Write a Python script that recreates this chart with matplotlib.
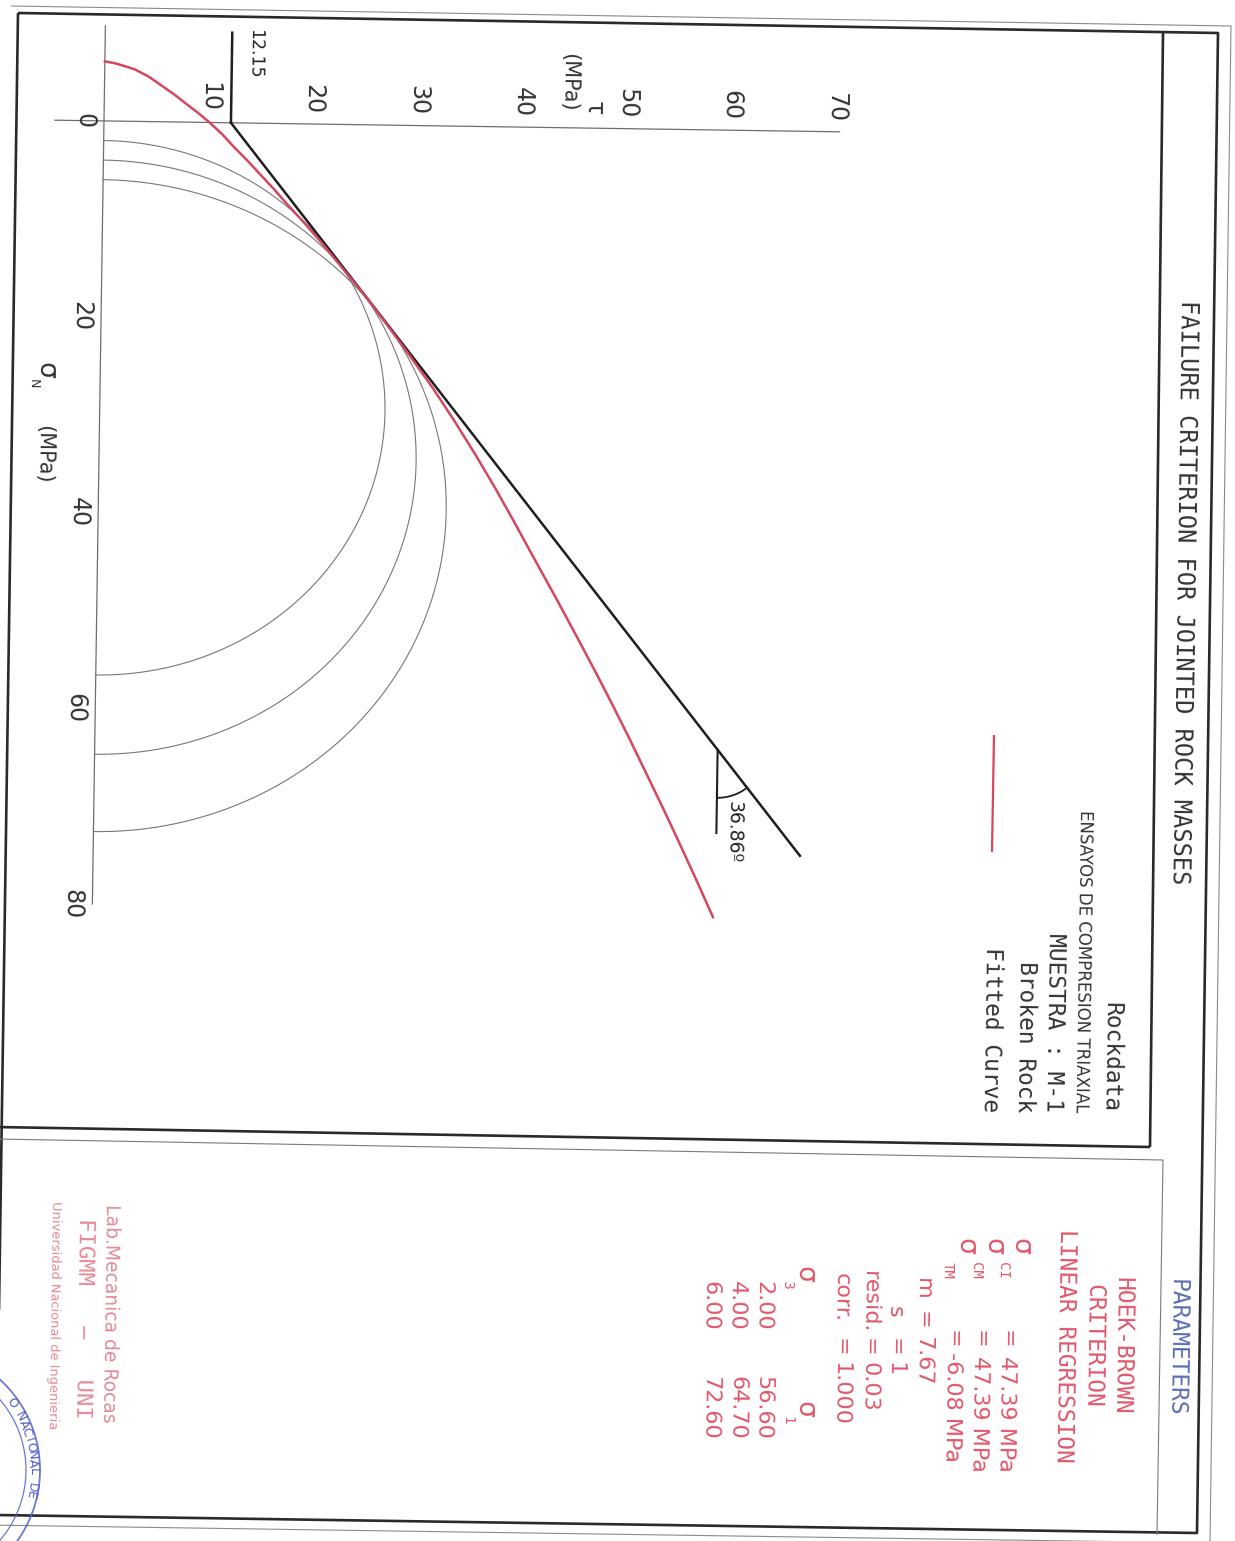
import numpy as np
import matplotlib
matplotlib.use("Agg")
import matplotlib.pyplot as plt
from matplotlib.transforms import Affine2D

# ---------------- data ----------------
sigma3 = [2.00, 4.00, 6.00]            # MPa
sigma1 = [56.60, 64.70, 72.60]         # MPa
cohesion = 12.15                       # MPa
phi_deg = 36.86                        # friction angle
mc_sigma_end = 74.0                    # end of Mohr-Coulomb line (sigma_n)
angle_vertex_sigma = 63.3              # where the angle is marked
hb_sigma_n = [-6.08, -5.9, -5.6, -5.3, -4.6, -3.6, -2.8, -1.9, -1.0, 0.0, 1.2,
              2.5, 3.8, 5.2, 6.7, 8.3, 10.1, 12.0, 13.7, 15.4, 17.5, 20.5,
              23.6, 26.8, 30.1, 33.5, 36.9, 40.3, 43.7, 48.0, 52.2, 55.6,
              59.0, 62.5, 65.9, 69.2, 72.6, 76.5, 80.4]
hb_tau = [0.0, 1.0, 2.0, 2.9, 4.2, 5.6, 6.7, 7.8, 8.95, 10.1, 11.35,
          12.5, 13.75, 15.0, 16.35, 17.7, 19.3, 20.9, 22.25, 23.6, 25.25, 27.45,
          29.65, 31.85, 33.95, 36.0, 37.95, 39.8, 41.6, 43.9, 46.1, 47.85,
          49.55, 51.25, 52.85, 54.4, 55.95, 57.7, 59.4]
tau_ticks = [10, 20, 30, 40, 50, 60, 70]
sn_ticks = [0, 20, 40, 60, 80]
sn_axis_range = [-9.7, 80.0]
tau_axis_range = [-4.7, 70.4]
cohesion_tick_top = -9.2

title = "FAILURE CRITERION FOR JOINTED ROCK MASSES"
legend_lines = ["Rockdata", "ENSAYOS DE COMPRESION TRIAXIAL", "MUESTRA : M-1",
                "Broken Rock", "Fitted Curve"]
param_header = ["HOEK-BROWN", "CRITERION", "LINEAR REGRESSION"]
sig_ci, sig_cm, sig_tm = "47.39", "47.39", "-6.08"
m_val, s_val, resid, corr = "7.67", "1", "0.03", "1.000"
s3_labels = ["2.00", "4.00", "6.00"]
s1_labels = ["56.60", "64.70", "72.60"]
lab_lines = ["Lab.Mecanica de Rocas", "FIGMM   \u2013   UNI",
             "Universidad Nacional de Ingenieria"]

# ---------------- figure ----------------
W, H = 1235, 1541
fig = plt.figure(figsize=(W / 100, H / 100), dpi=100)
fig.patch.set_facecolor("white")

page = fig.add_axes([0, 0, 1, 1], label="page")
page.set_xlim(0, W)
page.set_ylim(H, 0)
page.axis("off")

ax = fig.add_axes([0, 0, 1, 1], label="data")
X0, Y0, KX, KY = 94.4, 128.6, 10.45, 9.79   # unrotated pixel mapping
ax.set_xlim(-X0 / KX, (W - X0) / KX)
ax.set_ylim((H - Y0) / KY, -Y0 / KY)
ax.axis("off")

SKEW = -0.85
rot = Affine2D().rotate_deg_around(W / 2, H / 2, SKEW)
T = ax.transData + rot
ROT = -90 + SKEW

RED = "#d4475f"
TRED = "#e0566a"
GREY = "#6e6e6e"

def dtxt(tau, sig, s, size, color="#333333", ha="center", family="DejaVu Sans", **kw):
    ax.text(tau, sig, s, transform=T, rotation=ROT, rotation_mode="anchor",
            ha=ha, va="center", fontsize=size, color=color, family=family, **kw)

def ptxt(x, y, s, size, color="#333333", ha="left", family="DejaVu Sans", **kw):
    page.text(x, y, s, rotation=ROT, rotation_mode="anchor", ha=ha, va="center",
              fontsize=size, color=color, family=family, **kw)

def pline(xs, ys, lw, color="#333333"):
    page.plot(xs, ys, color=color, lw=lw, solid_capstyle="butt")

# ---------------- frame ----------------
pline([18, 1218, 1197, -4, 18], [13, 33, 1533, 1515, 13], 1.9, "#2a2a2a")
pline([11, 1231, 1210, -14], [6, 26, 1543, 1525], 0.8, "#8a8a8a")
pline([1163, 1150], [33, 1147], 1.9, "#2a2a2a")
pline([-4, 1150], [1127, 1147], 1.9, "#2a2a2a")
pline([-4, 1163], [1139, 1160], 0.8, "#7a7a7a")
pline([1163, 1157], [1160, 1535], 0.8, "#7a7a7a")

# ---------------- axes lines ----------------
ax.plot([0, 0], sn_axis_range, color=GREY, lw=0.9, transform=T)
ax.plot(tau_axis_range, [0, 0], color=GREY, lw=0.9, transform=T)

# Mohr circles
t = np.linspace(0, np.pi, 300)
for s3, s1 in zip(sigma3, sigma1):
    c = (s1 + s3) / 2
    r = (s1 - s3) / 2
    ax.plot(r * np.sin(t), c - r * np.cos(t), color="#777777", lw=0.8, transform=T)

# Mohr-Coulomb line
tanphi = np.tan(np.radians(phi_deg))
mc_s = np.array([0.0, mc_sigma_end])
ax.plot(cohesion + tanphi * mc_s, mc_s, color="#1f1f1f", lw=1.8, transform=T)
ax.plot([cohesion, cohesion], [0, cohesion_tick_top], color="#1f1f1f", lw=1.8, transform=T)

# angle marker
sv = angle_vertex_sigma
tv = cohesion + tanphi * sv
ax.plot([tv, tv], [sv, sv + 8.5], color="#1f1f1f", lw=1.5, transform=T)
ang_pix = np.arctan2(tanphi * KX, KY)
a = np.linspace(0, ang_pix, 40)
rp = 48.0
ax.plot(tv + rp * np.sin(a) / KX, sv + rp * np.cos(a) / KY, color="#1f1f1f", lw=1.3, transform=T)
dtxt(tv + 1.6, sv + 8.4, f"{phi_deg:.2f}\u00ba", 13.5, "#222222")

# Hoek-Brown fitted curve
ax.plot(hb_tau, hb_sigma_n, color=RED, lw=1.8, transform=T, solid_joinstyle="round")

# tick labels
for v in tau_ticks:
    dtxt(v, -2.55, str(v), 17, "#333333")
for v in sn_ticks:
    dtxt(-1.9, v, str(v), 17, "#333333")
dtxt(cohesion + 2.2, -7.1, f"{cohesion:.2f}", 12.5, "#222222")

# axis titles
dtxt(46.8, -2.0, "\u03c4", 17)
dtxt(44.4, -4.6, "(MPa)", 15)
dtxt(-5.3, 25.6, "\u03c3", 19)
dtxt(-6.4, 26.9, "N", 9)
dtxt(-5.3, 34.2, "(MPa)", 15)

# ---------------- title + legend ----------------
ptxt(1184, 592, title, 17, "#333333", ha="center", family="DejaVu Sans Mono")
leg_x = [1110, 1081, 1053, 1024, 990]
leg_fam = ["DejaVu Sans Mono", "DejaVu Sans", "DejaVu Sans Mono",
           "DejaVu Sans Mono", "DejaVu Sans Mono"]
leg_size = [16.5, 12.0, 16.5, 16.5, 16.5]
for s, x, fam, sz in zip(legend_lines, leg_x, leg_fam, leg_size):
    ptxt(x, 1112, s, sz, "#333333", ha="right", family=fam)
pline([994, 992], [735, 852], 1.6, RED)

# ---------------- parameters panel ----------------
ptxt(1176, 1348, "PARAMETERS", 16.5, "#5b6db3", ha="center", family="DejaVu Sans Mono")
for s, x in zip(param_header, [1122, 1093, 1065]):
    ptxt(x, 1346, s, 16.5, TRED, ha="center", family="DejaVu Sans Mono")

rows = [(1020, 1007, "CI", sig_ci), (993, 980, "CM", sig_cm), (965, 953, "TM", sig_tm)]
for xs, xr, sub, val in rows:
    ptxt(xs, 1238, "\u03c3", 19, TRED)
    ptxt(xs - 17, 1262, sub, 10, TRED, family="DejaVu Sans Mono")
    ptxt(xr, 1330, "=", 16, TRED)
    ptxt(xr, 1352 if val.startswith("-") else 1356, f"{val} MPa", 16, TRED)

ptxt(923, 1278, "m", 16, TRED)
ptxt(923, 1311, "=", 16, TRED)
ptxt(923, 1336, m_val, 16, TRED)
ptxt(895, 1306, "s", 16, TRED)
ptxt(895, 1338, "=", 16, TRED)
ptxt(895, 1362, s_val, 16, TRED)
ptxt(869, 1332, "resid.", 16, TRED, ha="right")
ptxt(869, 1338, "=", 16, TRED)
ptxt(869, 1362, resid, 16, TRED)
ptxt(841, 1322, "corr.", 16, TRED, ha="right")
ptxt(841, 1338, "=", 16, TRED)
ptxt(841, 1362, corr, 16, TRED)

ptxt(804, 1266, "\u03c3", 19, TRED)
ptxt(787, 1281, "3", 10, TRED)
ptxt(804, 1401, "\u03c3", 19, TRED)
ptxt(787, 1416, "1", 10, TRED)
for x, a3, a1 in zip([763, 737, 710], s3_labels, s1_labels):
    ptxt(x, 1281, a3, 16, TRED)
    ptxt(x, 1376, a1, 16, TRED)

# ---------------- lab credits ----------------
LAB = "#e48a98"
ptxt(111, 1204, lab_lines[0], 13.5, LAB)
ptxt(84, 1318, lab_lines[1], 16, LAB, ha="center", family="DejaVu Sans Mono")
ptxt(55, 1201, lab_lines[2], 9.4, LAB)

# stamp (partially visible)
STAMP = "#5560c8"
th = np.linspace(-1.3, 1.3, 200)
for rr, lw in [(122, 1.3), (108, 0.9)]:
    page.plot(-82 + rr * np.cos(th), 1470 + rr * np.sin(th), color=STAMP, lw=lw, alpha=0.85)
stamp_txt = "O NACIONAL DE"
angs = np.linspace(-0.62, 0.22, len(stamp_txt))
for ch, an in zip(stamp_txt, angs):
    page.text(-82 + 115 * np.cos(an), 1470 + 115 * np.sin(an), ch, rotation=-np.degrees(an) - 90,
              ha="center", va="center", fontsize=9, color=STAMP, rotation_mode="anchor")

fig.savefig("out.png", dpi=100, facecolor="white")
